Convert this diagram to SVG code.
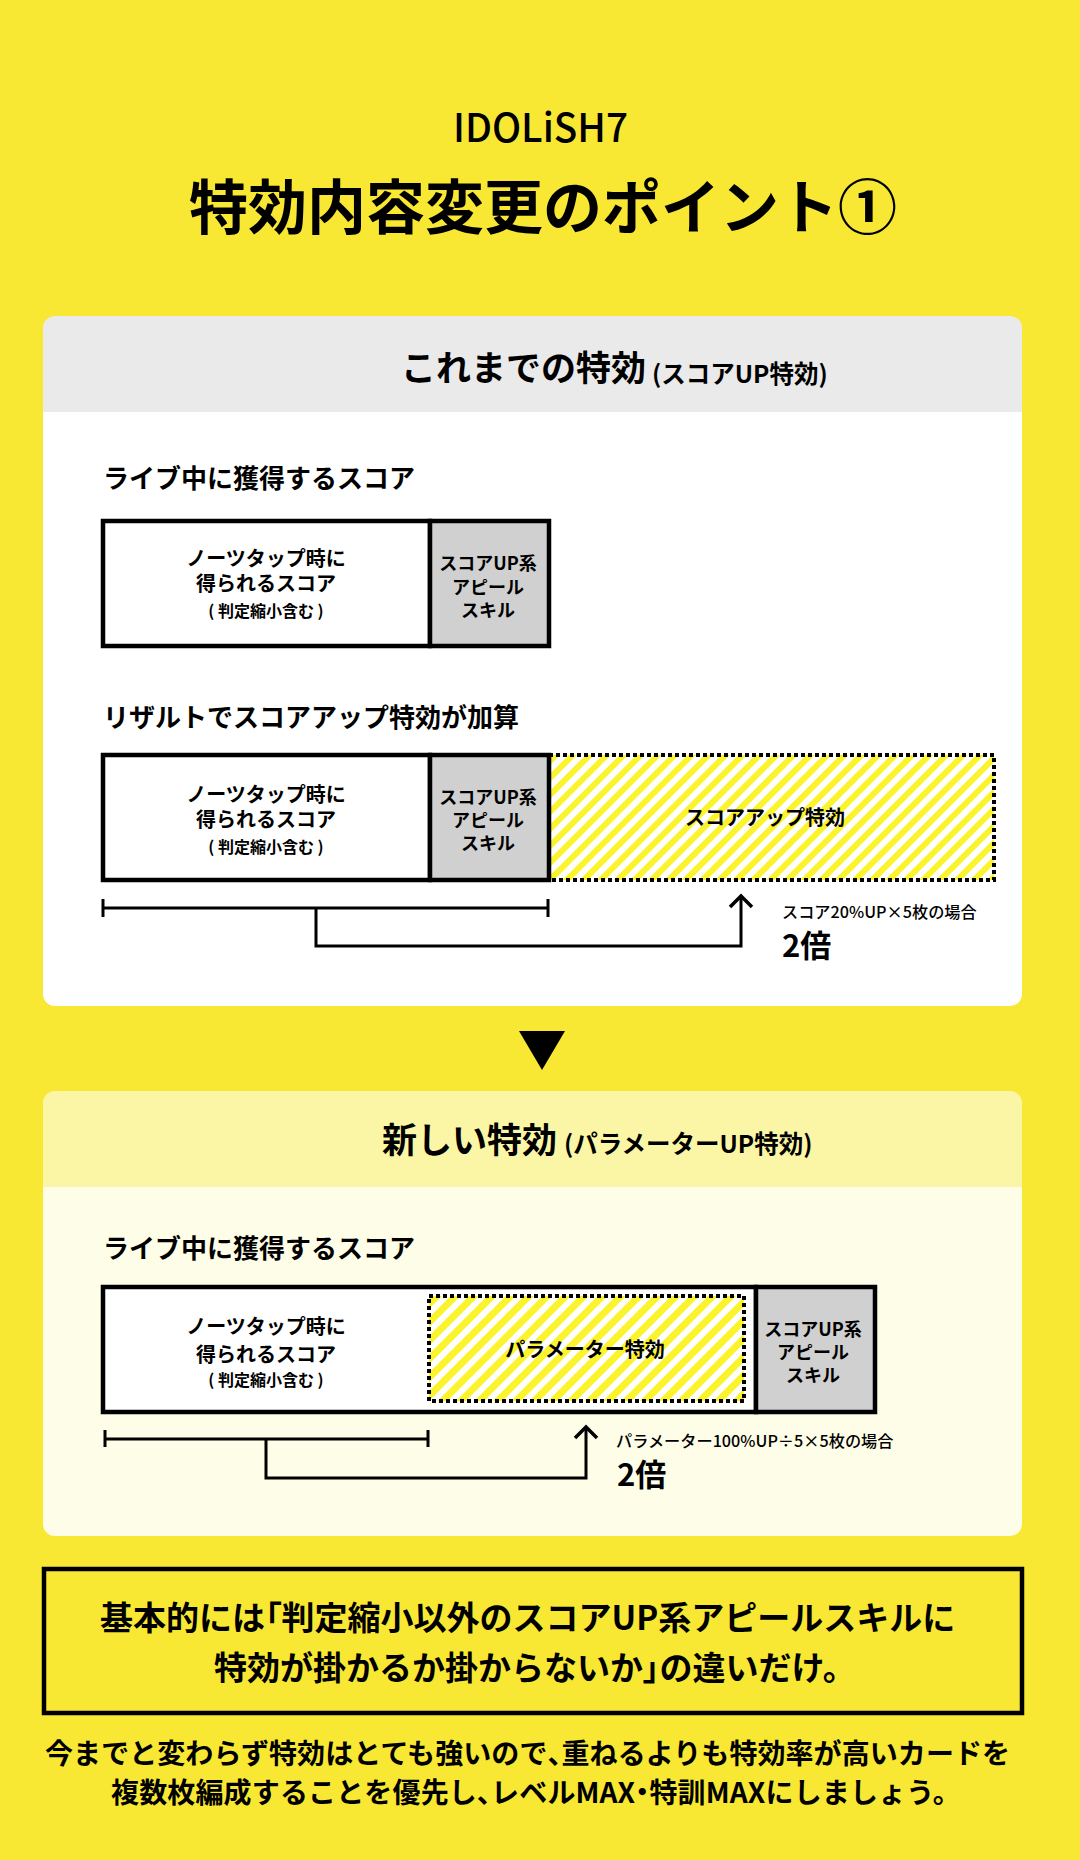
<svg xmlns="http://www.w3.org/2000/svg" width="1080" height="1860" viewBox="0 0 1080 1860">
<style>
text{font-family:"Noto Sans CJK JP","Noto Sans",sans-serif;font-weight:700;fill:#000;text-anchor:middle}
.l{text-anchor:start}
.p{font-feature-settings:"palt"}
.h{font-size:26px}
.b{font-size:20px}
.g{font-size:18px}
.s{font-size:16px}
.n{font-size:16.200px;font-weight:500}
.x{font-size:31px}
.box{fill:#fff;stroke:#000;stroke-width:4.500}
.grey{fill:#d0d0d0;stroke:#000;stroke-width:4.500}
.dot{fill:none;stroke:#000;stroke-width:4;stroke-dasharray:4 3}
.conn{fill:none;stroke:#000;stroke-width:3}
.arr{fill:none;stroke:#000;stroke-width:3.500}
</style>
<defs>
<pattern id="st" width="12" height="12" patternUnits="userSpaceOnUse" patternTransform="rotate(45)">
<rect width="12" height="12" fill="#fff"/><rect width="6" height="12" fill="#fbf32b"/>
</pattern>
<pattern id="st2" width="13" height="13" patternUnits="userSpaceOnUse" patternTransform="rotate(45)">
<rect width="13" height="13" fill="#fff"/><rect width="7" height="13" fill="#fbf32b"/>
</pattern>
</defs>
<rect width="1080" height="1860" fill="#f9e833"/>
<g id="title">
<text x="540.500" y="142" font-size="40" textLength="175" lengthAdjust="spacingAndGlyphs" style="font-weight:500">IDOLiSH7</text>
<text x="543" y="229" font-size="59">特効内容変更のポイント①</text>
</g>
<g id="card-old">
<path d="M43 412V328a12 12 0 0 1 12-12H1010a12 12 0 0 1 12 12V412Z" fill="#eaeaea"/>
<path d="M43 412H1022V994a12 12 0 0 1-12 12H55a12 12 0 0 1-12-12Z" fill="#fff"/>
<text class="l" x="401" y="381" font-size="35">これまでの特効</text>
<text class="l" x="652" y="383" font-size="24.500">(スコアUP特効)</text>
<text class="l h" x="103" y="488">ライブ中に獲得するスコア</text>
<text class="l h" x="103" y="727">リザルトでスコアアップ特効が加算</text>
</g>
<g id="bar-live">
<rect class="box" x="103" y="521" width="327" height="125"/>
<rect class="grey" x="430" y="521" width="119" height="125"/>
<text class="b" x="266" y="566">ノーツタップ時に</text>
<text class="b" x="266" y="591">得られるスコア</text>
<text class="s" x="266" y="617">( 判定縮小含む )</text>
<text class="g" x="488" y="570">スコアUP系</text>
<text class="g" x="488" y="594">アピール</text>
<text class="g" x="488" y="617">スキル</text>
</g>
<g id="bar-result">
<rect x="551" y="755" width="443" height="125" fill="url(#st)"/>
<rect class="dot" x="549" y="755" width="445" height="125"/>
<rect class="box" x="103" y="755" width="327" height="125"/>
<rect class="grey" x="430" y="755" width="119" height="125"/>
<text class="b" x="266" y="802">ノーツタップ時に</text>
<text class="b" x="266" y="827">得られるスコア</text>
<text class="s" x="266" y="853">( 判定縮小含む )</text>
<text class="g" x="488" y="804">スコアUP系</text>
<text class="g" x="488" y="827">アピール</text>
<text class="g" x="488" y="850">スキル</text>
<text class="b" x="765" y="825">スコアアップ特効</text>
</g>
<g id="note-old">
<text class="l n" x="782" y="918">スコア20%UP×5枚の場合</text>
<text class="l x" x="782" y="957">2倍</text>
</g>
<path id="down-arrow" d="M519 1031H565L542 1070Z" fill="#000"/>
<g id="card-new">
<path d="M43 1187V1103a12 12 0 0 1 12-12H1010a12 12 0 0 1 12 12V1187Z" fill="#fbf6a6"/>
<path d="M43 1187H1022V1524a12 12 0 0 1-12 12H55a12 12 0 0 1-12-12Z" fill="#fefde8"/>
<text class="l" x="382" y="1153" font-size="35">新しい特効</text>
<text class="l" x="564" y="1153" font-size="24.500">(パラメーターUP特効)</text>
<text class="l h" x="103" y="1258">ライブ中に獲得するスコア</text>
</g>
<g id="bar-new">
<rect class="box" x="103" y="1287" width="653" height="125"/>
<rect class="grey" x="756" y="1287" width="119" height="125"/>
<rect x="429" y="1296" width="315" height="105" fill="url(#st2)"/>
<rect class="dot" x="429" y="1296" width="315" height="105"/>
<text class="b" x="266" y="1334">ノーツタップ時に</text>
<text class="b" x="266" y="1362">得られるスコア</text>
<text class="s" x="266" y="1386">( 判定縮小含む )</text>
<text class="g" x="813" y="1336">スコアUP系</text>
<text class="g" x="813" y="1359">アピール</text>
<text class="g" x="813" y="1382">スキル</text>
<text class="b" x="585" y="1357">パラメーター特効</text>
</g>
<g id="note-new">
<text class="l n" x="616" y="1447">パラメーター100%UP÷5×5枚の場合</text>
<text class="l x" x="617" y="1486">2倍</text>
</g>
<g id="connectors">
<path class="conn" d="M103 908H548M103 899V917M548 899V917"/>
<path class="conn" d="M316 908V946H741V896"/>
<path class="arr" d="M730 907L741 896L752 907"/>
<path class="conn" d="M105 1439H428M105 1430V1447M428 1430V1447"/>
<path class="conn" d="M266 1439V1478H586V1427"/>
<path class="arr" d="M575 1438L586 1427L597 1438"/>
</g>
<g id="callout">
<rect x="44" y="1569" width="978" height="144" fill="none" stroke="#000" stroke-width="4.500"/>
<text class="l" x="100" y="1630" font-size="33">基本的には<tspan class="p">「</tspan>判定縮小以外のスコアUP系アピールスキルに</text>
<text class="l" x="214" y="1680" font-size="33">特効が掛かるか掛からないか<tspan class="p">」</tspan>の違いだけ。</text>
</g>
<g id="footer">
<text class="l" x="45" y="1764" font-size="28" letter-spacing="0.070">今までと変わらず特効はとても強いので<tspan class="p">、</tspan>重ねるよりも特効率が高いカードを</text>
<text class="l" x="111" y="1803" font-size="28" letter-spacing="0.150">複数枚編成することを優先し<tspan class="p">、</tspan>レベルMAX<tspan class="p">・</tspan>特訓MAXにしましょう。</text>
</g>
</svg>
